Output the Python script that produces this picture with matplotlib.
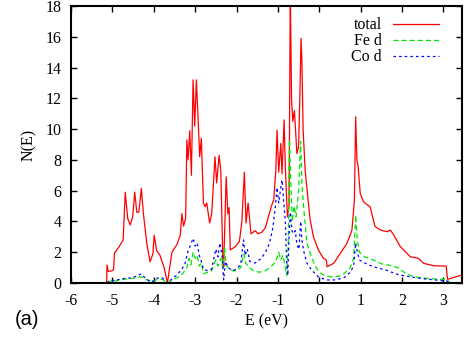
import matplotlib
matplotlib.use("Agg")
import matplotlib.pyplot as plt

plt.rcParams['font.family'] = ['Liberation Serif', 'DejaVu Serif']
plt.rcParams['axes.unicode_minus'] = False

total_E = [-6.0, -5.14, -5.13, -5.10, -5.0, -4.97, -4.95, -4.85, -4.74, -4.69, -4.63, -4.57, -4.51, -4.46,
           -4.41, -4.36, -4.30, -4.25, -4.17, -4.09, -4.02, -3.99, -3.93, -3.85, -3.75, -3.67, -3.56, -3.44,
           -3.36, -3.32, -3.28, -3.23, -3.20, -3.17, -3.13, -3.09, -3.05, -3.01, -2.97, -2.93, -2.89, -2.85,
           -2.80, -2.76, -2.72, -2.65, -2.60, -2.52, -2.48, -2.42, -2.38, -2.33, -2.31, -2.25, -2.21, -2.18,
           -2.15, -2.03, -1.93, -1.87, -1.81, -1.77, -1.72, -1.65, -1.55, -1.48, -1.39, -1.30, -1.23, -1.16,
           -1.10, -1.05, -1.02, -0.98, -0.93, -0.90, -0.85, -0.82, -0.77, -0.73, -0.70, -0.67, -0.64, -0.60,
           -0.54, -0.50, -0.47, -0.44, -0.42, -0.39, -0.34, -0.27, -0.22, -0.14, -0.02, 0.10, 0.17, 0.19,
           0.27, 0.35, 0.51, 0.67, 0.79, 0.85, 0.88, 0.91, 0.94, 0.99, 1.07, 1.15, 1.23, 1.27, 1.35, 1.48,
           1.64, 1.72, 1.80, 1.96, 2.12, 2.20, 2.40, 2.52, 2.77, 3.07, 3.10, 3.45]
total_N = [0.0, 0.0, 1.17, 0.75, 0.8, 0.9, 1.95, 2.3, 2.8, 5.9, 4.2, 3.77, 4.3, 5.9,
           4.6, 4.6, 6.15, 4.5, 2.6, 1.37, 1.9, 3.1, 2.1, 1.8, 1.0, 0.0, 2.0, 2.5,
           3.1, 4.5, 3.7, 4.2, 9.3, 8.0, 9.9, 7.0, 13.2, 10.2, 13.2, 10.8, 8.2, 9.4,
           5.2, 4.96, 5.2, 3.9, 4.5, 8.2, 6.5, 8.3, 7.3, 1.5, 1.06, 6.9, 4.5, 4.9,
           2.15, 2.36, 2.7, 4.0, 7.2, 3.9, 5.2, 3.2, 3.4, 3.2, 3.3, 3.6, 4.3, 4.96,
           5.4, 7.3, 9.94, 7.2, 9.07, 7.1, 10.6, 7.56, 4.3, 5.0, 19.0, 12.0, 10.5, 11.2,
           8.4, 8.86, 12.0, 15.9, 14.5, 9.94, 7.3, 5.4, 4.1, 3.0, 2.14, 1.6, 1.5, 1.06,
           1.17, 1.28, 1.93, 2.58, 3.44, 5.4, 10.8, 8.0, 7.56, 5.83, 5.28, 5.1, 4.96, 4.5, 3.66, 3.44,
           3.33, 3.44, 3.12, 2.36, 1.93, 1.71, 1.6, 1.28, 1.12, 1.1, 0.24, 0.52]

fe_E = [-5.14, -5.1, -4.9, -4.7, -4.5, -4.3, -4.2, -4.05, -3.95, -3.8, -3.67, -3.55, -3.4, -3.3, -3.2,
        -3.15, -3.1, -3.05, -3.0, -2.95, -2.9, -2.85, -2.8, -2.7, -2.6, -2.55, -2.5, -2.45, -2.38, -2.33,
        -2.29, -2.25, -2.2, -2.1, -2.0, -1.9, -1.82, -1.78, -1.72, -1.6, -1.45, -1.3, -1.15, -1.05, -0.98,
        -0.93, -0.88, -0.84, -0.79, -0.75, -0.72, -0.68, -0.65, -0.61, -0.56, -0.5, -0.45, -0.42, -0.38,
        -0.3, -0.2, -0.1, 0.0, 0.15, 0.3, 0.5, 0.6, 0.75, 0.83, 0.88, 0.92, 0.97, 1.1, 1.3, 1.5, 1.7,
        1.9, 2.1, 2.3, 2.6, 2.9, 3.1, 3.15, 3.45]
fe_N = [0.0, 0.1, 0.15, 0.25, 0.3, 0.4, 0.25, 0.05, 0.2, 0.25, 0.0, 0.2, 0.4, 0.6, 1.0,
        1.6, 1.2, 2.0, 1.6, 1.8, 1.1, 1.3, 0.6, 0.7, 0.8, 1.2, 1.5, 1.1, 1.6, 1.0,
        2.3, 1.2, 1.0, 0.8, 0.8, 1.0, 1.9, 1.3, 1.1, 0.8, 0.7, 0.8, 1.1, 1.4, 2.0,
        1.5, 1.8, 1.3, 0.5, 2.5, 9.3, 6.0, 4.0, 5.0, 4.3, 6.0, 9.2, 6.5, 5.0,
        2.6, 1.8, 1.1, 0.7, 0.45, 0.4, 0.45, 0.6, 1.0, 1.6, 4.4, 2.8, 2.0, 1.7, 1.5, 1.25, 1.15,
        1.0, 0.6, 0.4, 0.3, 0.25, 0.2, 0.0, 0.05]

co_E = [-5.14, -5.1, -4.9, -4.7, -4.5, -4.3, -4.2, -4.05, -3.95, -3.8, -3.67, -3.55, -3.45, -3.35, -3.25,
        -3.18, -3.12, -3.05, -3.0, -2.95, -2.9, -2.85, -2.8, -2.7, -2.6, -2.55, -2.5, -2.45, -2.4, -2.35,
        -2.31, -2.27, -2.2, -2.1, -2.0, -1.9, -1.83, -1.79, -1.74, -1.68, -1.55, -1.4, -1.3, -1.2, -1.12,
        -1.06, -1.02, -0.98, -0.94, -0.9, -0.86, -0.82, -0.79, -0.76, -0.73, -0.70, -0.66, -0.62, -0.58,
        -0.54, -0.49, -0.45, -0.42, -0.37, -0.3, -0.2, -0.1, 0.0, 0.2, 0.4, 0.6, 0.75, 0.83, 0.88, 0.92,
        0.97, 1.1, 1.3, 1.6, 1.9, 2.2, 2.5, 2.8, 3.1, 3.15, 3.45]
co_N = [0.0, 0.1, 0.2, 0.3, 0.35, 0.6, 0.3, 0.05, 0.3, 0.35, 0.0, 0.3, 0.5, 0.8, 1.2,
        2.0, 2.4, 2.9, 2.4, 2.6, 1.8, 1.4, 0.9, 0.8, 0.9, 1.6, 2.2, 1.7, 2.6, 1.8,
        0.2, 1.4, 1.0, 0.8, 0.9, 1.2, 2.8, 1.8, 2.2, 1.4, 1.3, 1.6, 2.0, 2.6, 3.6,
        5.0, 6.2, 5.2, 6.0, 6.7, 5.3, 4.0, 1.5, 0.5, 3.0, 4.6, 3.4, 3.2, 3.4,
        2.5, 2.2, 4.0, 2.8, 2.0, 1.3, 0.9, 0.6, 0.35, 0.2, 0.2, 0.35, 0.7, 1.1, 2.6, 2.0,
        1.5, 1.3, 1.06, 0.85, 0.55, 0.4, 0.28, 0.2, 0.12, 0.0, 0.03]

x_ticks = [-6, -5, -4, -3, -2, -1, 0, 1, 2, 3]
y_ticks = [0, 2, 4, 6, 8, 10, 12, 14, 16, 18]

fig = plt.figure(figsize=(4.66, 3.45), dpi=100)
ax = fig.add_axes([0.1524, 0.1797, 0.9914 - 0.1524, 0.9826 - 0.1797])

ax.plot(total_E, total_N, color='#ff0000', lw=0.9, label='total')
ax.plot(fe_E, fe_N, color='#00e600', lw=0.9, dashes=(4, 2.5), label='Fe d')
ax.plot(co_E, co_N, color='#0000ff', lw=0.9, dashes=(2, 2.5), label='Co d')

ax.set_xlim(-6, 3.45)
ax.set_ylim(0, 18)
ax.set_xticks(x_ticks)
ax.set_yticks(y_ticks)
ax.tick_params(direction='in', length=4, width=1, top=True, right=True, labelsize=11.5, pad=7)
for s in ax.spines.values():
    s.set_linewidth(1.5)

ax.set_xlabel('E (eV)', fontsize=11.5, labelpad=3)
ax.set_ylabel('N(E)', fontsize=11.5, labelpad=6)

leg = ax.legend(loc='upper right', frameon=False, markerfirst=False, fontsize=11.5,
                handlelength=2.9, handletextpad=0.7, labelspacing=0.0,
                borderaxespad=0.3, bbox_to_anchor=(0.97, 1.0))

fig.text(0.032, 0.058, '(a)', fontsize=14.5, family=['Liberation Sans', 'DejaVu Sans'])

fig.savefig('out.png', dpi=100)
